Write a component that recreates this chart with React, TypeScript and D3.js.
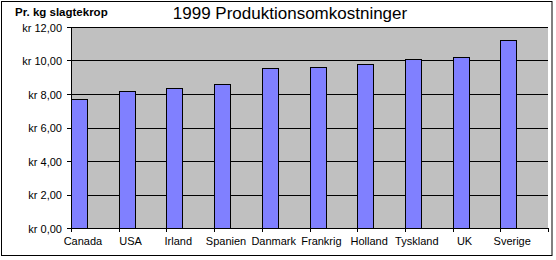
import React from "react";
import * as d3 from "d3";

const categories = ["Canada", "USA", "Irland", "Spanien", "Danmark", "Frankrig", "Holland", "Tyskland", "UK", "Sverige"];
const values = [7.7, 8.16, 8.34, 8.58, 9.54, 9.6, 9.77, 10.07, 10.19, 11.2];
const yTicks = [0, 2, 4, 6, 8, 10, 12];
const title = "1999 Produktionsomkostninger";
const unitLabel = "Pr. kg slagtekrop";

const W = 556;
const H = 260;
const left = 71;
const right = 548;
const top = 27;
const bottom = 228;

const fmt = (v: number) => "kr " + v.toFixed(2).replace(".", ",");

export default function App() {
  const x = d3.scaleBand<string>().domain(categories).range([left, right]).paddingInner(0).paddingOuter(0);
  const y = d3.scaleLinear().domain([0, 12]).range([bottom, top]);
  const bw = x.bandwidth();
  const barW = bw * 0.335;
  const font = "'Liberation Sans', Arial, sans-serif";
  const px = (v: number) => Math.round(v) + 0.5;

  return (
    <svg width={W} height={H} style={{ position: "fixed", left: 0, top: 0, display: "block" }} fontFamily={font}>
      <rect x={0} y={0} width={W} height={H} fill="#ffffff" />
      <rect x={1.5} y={1.5} width={550.5} height={254} fill="#ffffff" stroke="#000" strokeWidth={1} />
      <text x={15} y={16} fontSize={11.5} fontWeight="bold" fill="#000">{unitLabel}</text>
      <text x={290} y={19} fontSize={17} textAnchor="middle" fill="#000">{title}</text>
      <rect x={left} y={top} width={right - left} height={bottom - top} fill="#c0c0c0" />
      {yTicks.filter(t => t > 0).map(t => (
        <line key={"g" + t} x1={left} x2={right} y1={px(y(t))} y2={px(y(t))} stroke="#000" strokeWidth={1} />
      ))}
      {categories.map((c, i) => {
        const x0 = x(c)!;
        const yv = y(values[i]);
        return (
          <rect key={c} x={px(x0)} y={px(yv)} width={Math.round(barW)} height={px(y(0)) - px(yv)} fill="#8080ff" stroke="#000" strokeWidth={1} />
        );
      })}
      <line x1={px(left)} x2={px(left)} y1={top} y2={px(bottom)} stroke="#000" />
      <line x1={left} x2={right + 1} y1={px(bottom)} y2={px(bottom)} stroke="#000" />
      {yTicks.map(t => (
        <g key={"y" + t}>
          <line x1={left - 4} x2={left} y1={px(y(t))} y2={px(y(t))} stroke="#000" />
          <text x={62} y={y(t) + 4.5} fontSize={11} textAnchor="end" fill="#000">{fmt(t)}</text>
        </g>
      ))}
      {[...categories.map(c => x(c)!), right].map((v, i) => (
        <line key={"t" + i} x1={px(v)} x2={px(v)} y1={bottom} y2={bottom + 4} stroke="#000" />
      ))}
      {categories.map(c => (
        <text key={"l" + c} x={x(c)! + bw * 0.25} y={245} fontSize={11} textAnchor="middle" fill="#000">{c}</text>
      ))}
    </svg>
  );
}
